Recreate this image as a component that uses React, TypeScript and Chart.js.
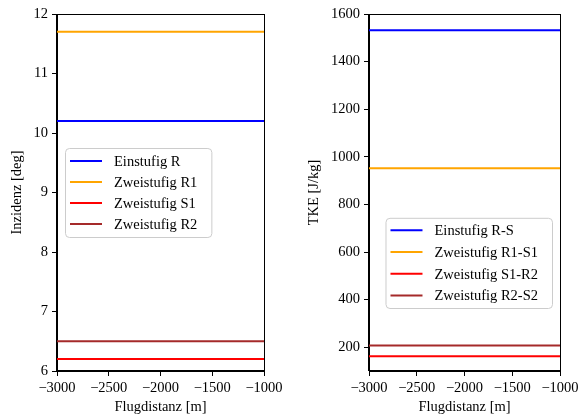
import { useEffect, useRef } from "react";
import { Chart, registerables } from "chart.js";

Chart.register(...registerables);

// Flight distance span shared by both panels
const xRange = [-3000, -1000];
const xTicks = [-3000, -2500, -2000, -1500, -1000];

// Left panel: incidence per blade row
const incidenceLabels = ["Einstufig R", "Zweistufig R1", "Zweistufig S1", "Zweistufig R2"];
const incidenceValues = [10.2, 11.7, 6.2, 6.5];
const incidenceTicks = [6, 7, 8, 9, 10, 11, 12];

// Right panel: turbulent kinetic energy per stage interface
const tkeLabels = ["Einstufig R-S", "Zweistufig R1-S1", "Zweistufig S1-R2", "Zweistufig R2-S2"];
const tkeValues = [1532, 952, 162, 207];
const tkeTicks = [200, 400, 600, 800, 1000, 1200, 1400, 1600];

const seriesColors = ["#0000ff", "#ffa500", "#ff0000", "#a52a2a"];

const FONT_FAMILY = "'Liberation Serif', 'Times New Roman', serif";
const FONT_SIZE = 14.5;

const fmt = (v: number) => (v < 0 ? "\u2212" + Math.abs(v) : String(v));

// Closed frame around the plotting area
const framePlugin = {
  id: "frame",
  afterDatasetsDraw(chart: any) {
    const { ctx, chartArea } = chart;
    ctx.save();
    ctx.strokeStyle = "#000";
    ctx.lineWidth = 1;
    ctx.strokeRect(
      Math.round(chartArea.left) - 0.5,
      Math.round(chartArea.top) + 0.5,
      Math.round(chartArea.right - chartArea.left) + 1,
      Math.round(chartArea.bottom - chartArea.top) - 1
    );
    ctx.restore();
  },
};

// Framed legend placed inside the plotting area
const boxLegendPlugin = {
  id: "boxLegend",
  afterDraw(chart: any, _args: any, opts: any) {
    const { ctx, chartArea } = chart;
    const items = chart.data.datasets;
    ctx.save();
    ctx.font = `${FONT_SIZE}px ${FONT_FAMILY}`;
    const textW = Math.max(...items.map((d: any) => ctx.measureText(d.label).width));
    const padL = 5;
    const handle = 32;
    const gap = 12;
    const padR = 14;
    const w = padL + handle + gap + textW + padR;
    const h = items.length * opts.rowH + 2 * opts.padY;
    const x = opts.side === "left" ? chartArea.left + opts.dx : chartArea.right - opts.dx - w;
    const y = opts.centerY
      ? (chartArea.top + chartArea.bottom) / 2 - h / 2
      : chartArea.bottom - opts.dy - h;
    ctx.beginPath();
    ctx.roundRect(x + 0.5, y + 0.5, w, h, 4);
    ctx.fillStyle = "rgba(255,255,255,0.8)";
    ctx.fill();
    ctx.strokeStyle = "#cccccc";
    ctx.lineWidth = 1;
    ctx.stroke();
    items.forEach((d: any, i: number) => {
      const cy = y + opts.padY + opts.rowH * (i + 0.5);
      ctx.beginPath();
      ctx.moveTo(x + padL, cy);
      ctx.lineTo(x + padL + handle, cy);
      ctx.strokeStyle = d.borderColor;
      ctx.lineWidth = 2;
      ctx.stroke();
      ctx.fillStyle = "#000";
      ctx.textBaseline = "middle";
      ctx.textAlign = "left";
      ctx.fillText(d.label, x + padL + handle + gap, cy + 1);
    });
    ctx.restore();
  },
};

function makeConfig(
  labels: string[],
  values: number[],
  yTicks: number[],
  yMin: number,
  yMax: number,
  yTitle: string,
  yWidth: number,
  yTitlePad: number,
  padRight: number,
  legend: any
): any {
  const font = { family: FONT_FAMILY, size: FONT_SIZE, lineHeight: 1.2 };
  return {
    type: "line",
    data: {
      datasets: labels.map((label, i) => ({
        label,
        data: xRange.map((x) => ({ x, y: values[i] })),
        borderColor: seriesColors[i],
        backgroundColor: seriesColors[i],
        borderWidth: 2,
        pointRadius: 0,
        fill: false,
      })),
    },
    options: {
      responsive: false,
      animation: false,
      layout: { padding: { left: 0, right: padRight, top: 14, bottom: 0 } },
      plugins: {
        legend: { display: false },
        tooltip: { enabled: false },
        boxLegend: legend,
      },
      scales: {
        x: {
          type: "linear",
          min: xRange[0],
          max: xRange[1],
          afterBuildTicks: (s: any) => {
            s.ticks = xTicks.map((v) => ({ value: v }));
          },
          afterFit: (s: any) => {
            s.height = 48;
          },
          ticks: { font, color: "#000", padding: 3, maxRotation: 0, callback: (v: number) => fmt(v) },
          grid: { drawOnChartArea: false, drawTicks: true, tickLength: 5, color: "#000" },
          border: { color: "#000" },
          title: { display: true, text: "Flugdistanz [m]", font, color: "#000", padding: { top: 0, bottom: 3 } },
        },
        y: {
          type: "linear",
          min: yMin,
          max: yMax,
          afterBuildTicks: (s: any) => {
            s.ticks = yTicks.map((v) => ({ value: v }));
          },
          afterFit: (s: any) => {
            s.width = yWidth;
          },
          ticks: { font, color: "#000", padding: 4, callback: (v: number) => fmt(v) },
          grid: { drawOnChartArea: false, drawTicks: true, tickLength: 5, color: "#000" },
          border: { color: "#000" },
          title: { display: true, text: yTitle, font, color: "#000", padding: { top: yTitlePad, bottom: 0 } },
        },
      },
    },
    plugins: [framePlugin, boxLegendPlugin],
  };
}

export default function App() {
  const leftRef = useRef<HTMLCanvasElement>(null);
  const rightRef = useRef<HTMLCanvasElement>(null);

  useEffect(() => {
    const left = new Chart(
      leftRef.current!,
      makeConfig(incidenceLabels, incidenceValues, incidenceTicks, 6, 12, "Inzidenz [deg]", 57, 8, 27, {
        side: "left",
        dx: 8,
        centerY: true,
        rowH: 21,
        padY: 2.5,
      })
    );
    const right = new Chart(
      rightRef.current!,
      makeConfig(tkeLabels, tkeValues, tkeTicks, 100, 1600, "TKE [J/kg]", 78, 14, 22, {
        side: "right",
        dx: 8,
        dy: 63,
        centerY: false,
        rowH: 21.8,
        padY: 1.5,
      })
    );
    return () => {
      left.destroy();
      right.destroy();
    };
  }, []);

  return (
    <div style={{ position: "fixed", left: 0, top: 0, width: 582, height: 419, background: "#fff" }}>
      <canvas ref={leftRef} width={291} height={419} style={{ position: "absolute", left: 0, top: 0 }} />
      <canvas ref={rightRef} width={291} height={419} style={{ position: "absolute", left: 291, top: 0 }} />
    </div>
  );
}
